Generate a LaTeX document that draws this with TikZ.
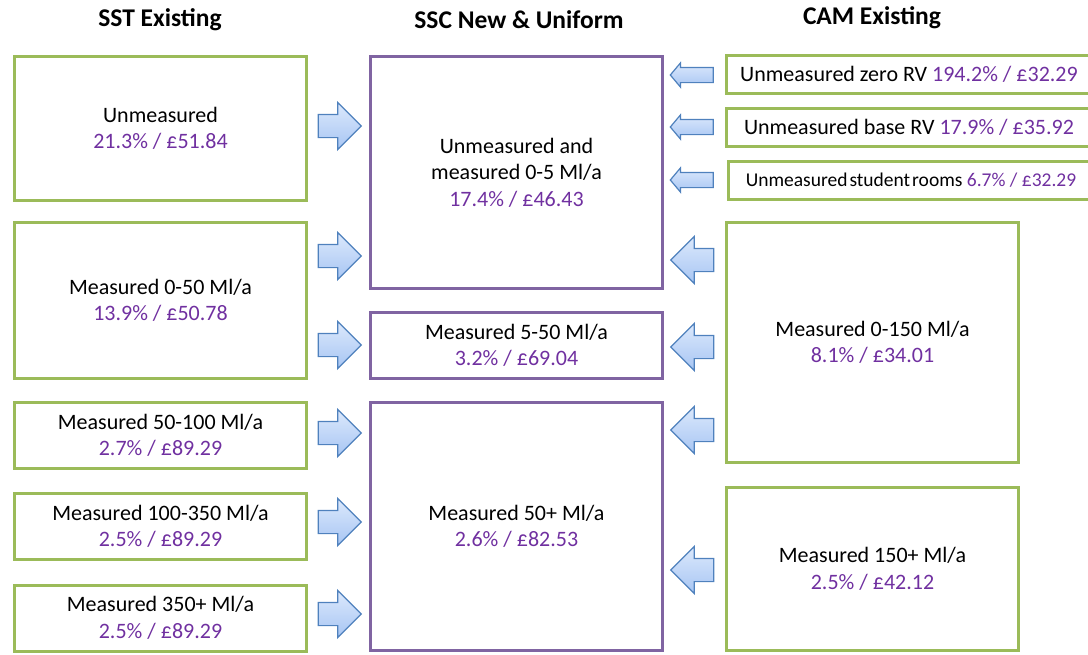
\documentclass[tikz,border=0pt]{standalone}
\usepackage{fontspec}
\setmainfont{Carlito}
\usepackage{xcolor}
\usetikzlibrary{positioning,shapes.arrows}
\definecolor{sstGreen}{HTML}{9BBB59}
\definecolor{sscPurple}{HTML}{8064A2}
\definecolor{valPurple}{HTML}{7030A0}
\definecolor{arrEdge}{HTML}{4F81BD}
\definecolor{arrTop}{HTML}{DCE9FC}
\definecolor{arrBot}{HTML}{A7C5F3}
\newcommand{\pv}[1]{\textcolor{valPurple}{#1}}

\begin{document}
\begin{tikzpicture}[x=1pt, y=-1pt,
  font=\fontsize{22}{26.5}\selectfont,
  hdr/.style={font=\fontsize{25.5}{28}\selectfont\bfseries},
  sstbox/.style={draw=sstGreen,line width=3pt,align=center,inner sep=0pt},
  sscbox/.style={draw=sscPurple,line width=3pt,align=center,inner sep=0pt},
  rarr/.style={single arrow,draw=arrEdge,line width=1.2pt,top color=arrTop,bottom color=arrBot,
    inner xsep=0pt,inner ysep=11pt,single arrow head extend=12pt,single arrow tip angle=90,
    minimum height=43pt},
  larr/.style={rarr,shape border rotate=180},
  sarr/.style={larr,inner ysep=7pt,single arrow head extend=4.5pt,single arrow tip angle=100}]
\useasboundingbox (0,0) rectangle (1088,654);
% --- headings ---
\node[hdr] (hSST) at (160,20) {SST Existing};
\node[hdr] (hSSC) at (519,20) {SSC New \& Uniform};
\node[hdr] (hCAM) at (872,18) {CAM Existing};
% --- SST existing (left) ---
\node[sstbox,minimum width=292pt,minimum height=144pt] (s1) at (160.5,128.5)
  {Unmeasured\\\pv{21.3\% / £51.84}};
\node[sstbox,minimum width=292pt,minimum height=156pt] (s2) at (160.5,300.5)
  {Measured 0-50 Ml/a\\\pv{13.9\% / £50.78}};
\node[sstbox,minimum width=292pt,minimum height=66pt] (s3) at (160.5,435.5)
  {Measured 50-100 Ml/a\\\pv{2.7\% / £89.29}};
\node[sstbox,minimum width=292pt,minimum height=66pt] (s4) at (160.5,526.5)
  {Measured 100-350 Ml/a\\\pv{2.5\% / £89.29}};
\node[sstbox,minimum width=292pt,minimum height=66pt] (s5) at (160.5,618)
  {Measured 350+ Ml/a\\\pv{2.5\% / £89.29}};
% --- SSC new and uniform (middle) ---
\node[sscbox,minimum width=292pt,minimum height=232pt] (c1) at (516.5,172.5)
  {Unmeasured and\\measured 0-5 Ml/a\\\pv{17.4\% / £46.43}};
\node[sscbox,minimum width=292pt,minimum height=66pt] (c2) at (516.5,345.5)
  {Measured 5-50 Ml/a\\\pv{3.2\% / £69.04}};
\node[sscbox,minimum width=292pt,minimum height=248pt] (c3) at (516.5,526.5)
  {Measured 50+ Ml/a\\\pv{2.6\% / £82.53}};
% --- CAM existing (right) ---
\node[sstbox,minimum width=366pt,minimum height=38pt] (m1) at (909,74.5)
  {Unmeasured zero RV \pv{194.2\% / £32.29}};
\node[sstbox,minimum width=366pt,minimum height=38pt] (m2) at (909,127.5)
  {Unmeasured base RV \pv{17.9\% / £35.92}};
\node[sstbox,minimum width=366pt,minimum height=38pt,font=\fontsize{19.5}{22}\selectfont] (m3) at (911,180.5)
  {Unmeasured\hspace{2pt}student\hspace{2pt}rooms \pv{6.7\% / £32.29}};
\node[sstbox,minimum width=292pt,minimum height=240pt] (m4) at (872.5,342.5)
  {Measured 0-150 Ml/a\\\pv{8.1\% / £34.01}};
\node[sstbox,minimum width=292pt,minimum height=163pt] (m5) at (872.5,569)
  {Measured 150+ Ml/a\\\pv{2.5\% / £42.12}};
% --- block arrows ---
\node[rarr] (a1) at (334,126) {};
\node[rarr] (a2) at (334,256) {};
\node[rarr] (a3) at (334,345) {};
\node[rarr] (a4) at (334,433) {};
\node[rarr] (a5) at (334,522) {};
\node[rarr] (a6) at (334,614) {};
\node[sarr] (b1) at (695,75) {};
\node[sarr] (b2) at (695,127) {};
\node[sarr] (b3) at (695,180) {};
\node[larr] (b4) at (698,260) {};
\node[larr] (b5) at (698,347) {};
\node[larr] (b6) at (698,430) {};
\node[larr] (b7) at (698,570) {};
\end{tikzpicture}
\end{document}
